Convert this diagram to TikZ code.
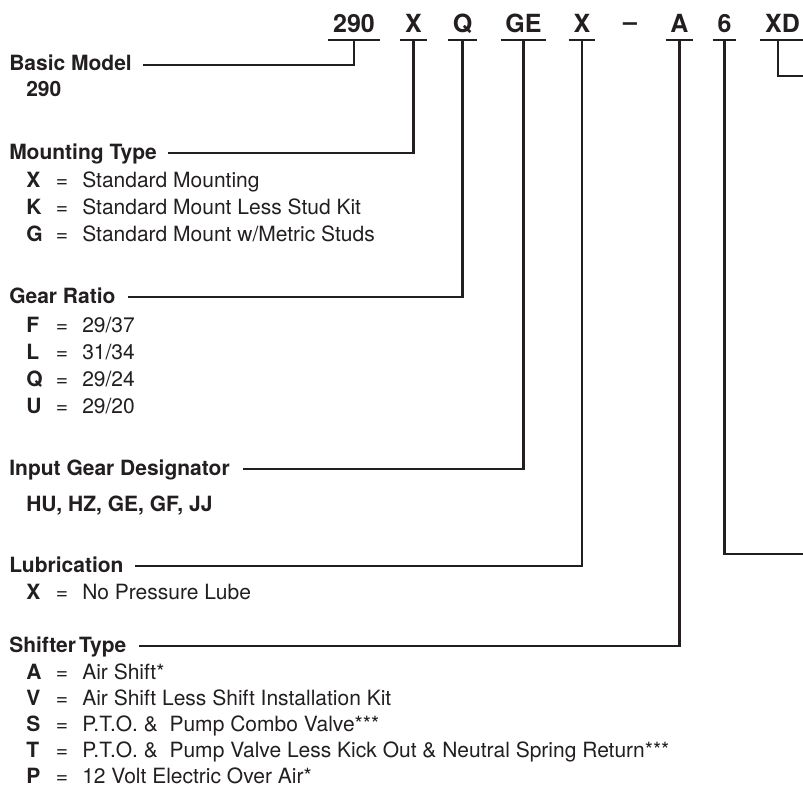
\documentclass[tikz,border=0pt]{standalone}
\usepackage{fontspec}
\setmainfont{TeX Gyre Heros}
\usepackage{tikz}
\usetikzlibrary{positioning,calc}
\definecolor{inkcolor}{HTML}{231F20}

\begin{document}
\begin{tikzpicture}[x=1pt, y=-1pt, line width=2.5pt, draw=inkcolor,
    every node/.style={inner sep=0pt, font=\fontsize{21}{25}\selectfont, text=inkcolor},
    codebox/.style={font=\fontsize{25}{30}\selectfont\bfseries, inner xsep=3.5pt, inner ysep=0pt,
        text height=18pt, text depth=6pt, anchor=base},
    heading/.style={font=\fontsize{21}{25}\selectfont\bfseries, anchor=base west,
        text height=15pt, text depth=3pt},
    keyletter/.style={font=\fontsize{21}{25}\selectfont\bfseries, anchor=base west},
    eqsign/.style={anchor=base},
    keyvalue/.style={anchor=base west}]
    \useasboundingbox (0,0) rectangle (803,789);

    % Model code (top row)
    \node[codebox] (c290) at (354,33) {290};
    \node[codebox] (cX)   at (413.5,33) {X};
    \node[codebox] (cQ)   at (462.5,33) {Q};
    \node[codebox] (cGE)  at (523.5,33) {GE};
    \node[codebox] (cXb)  at (582,33) {X};
    \node[codebox] (cdash) at (630,31) {--};
    \node[codebox] (cA)   at (679.5,33) {A};
    \node[codebox] (c6)   at (724.5,33) {6};
    \node[codebox] (cXD)  at (782.5,33) {XD};
    \foreach \c in {c290,cX,cQ,cGE,cXb,cA,c6,cXD}
        \draw (\c.south west) -- (\c.south east);

    % Section headings
    \node[heading] (bm)  at (8,71)  {Basic Model};
    \node[heading] (mt)  at (8,159) {Mounting Type};
    \node[heading] (gr)  at (8,303) {Gear Ratio};
    \node[heading] (igd) at (8,475) {Input Gear Designator};
    \node[heading] (lub) at (8,572) {Lubrication};
    \node[heading] (st)  at (8,652) {Shifter\kern3pt Type};

    % Basic model
    \node[keyletter] (bm-val) at (25,97) {290};

    % Mounting type
    \foreach \key/\val [count=\i from 0] in {X/Standard Mounting, K/Standard Mount Less Stud Kit,
        G/{Standard Mount w/Metric Studs}} {
        \pgfmathsetmacro{\by}{187 + \i*27}
        \node[keyletter] (mt-\i-k)  at (25,\by) {\key};
        \node[eqsign]    (mt-\i-eq) at (62,\by) {=};
        \node[keyvalue]  (mt-\i-v)  at (81,\by) {\val};
    }

    % Gear ratio
    \foreach \key/\val [count=\i from 0] in {F/{29/37}, L/{31/34}, Q/{29/24}, U/{29/20}} {
        \pgfmathsetmacro{\by}{332 + \i*27}
        \node[keyletter] (gr-\i-k)  at (25,\by) {\key};
        \node[eqsign]    (gr-\i-eq) at (62,\by) {=};
        \node[keyvalue]  (gr-\i-v)  at (81,\by) {\val};
    }

    % Input gear designator
    \node[keyletter] (igd-val) at (25,511) {HU, HZ, GE, GF, JJ};

    % Lubrication
    \node[keyletter] (lub-0-k)  at (25,599) {X};
    \node[eqsign]    (lub-0-eq) at (62,599) {=};
    \node[keyvalue]  (lub-0-v)  at (81,599) {No Pressure Lube};

    % Shifter type
    \foreach \key/\val [count=\i from 0] in {A/{Air Shift*}, V/{Air Shift Less Shift Installation Kit},
        S/{P.T.O. \&\ \ Pump Combo Valve***},
        T/{P.T.O. \&\ \ Pump Valve Less Kick Out \& Neutral Spring Return***},
        P/{12 Volt Electric Over Air*}} {
        \pgfmathsetmacro{\by}{679 + \i*26.2}
        \node[keyletter] (st-\i-k)  at (25,\by) {\key};
        \node[eqsign]    (st-\i-eq) at (62,\by) {=};
        \node[keyvalue]  (st-\i-v)  at (81,\by) {\val};
    }

    % Leaders from code to heading
    \draw (c290.south) |- ([xshift=10pt]bm.east);
    \draw (cX.south)   |- ([xshift=10pt]mt.east);
    \draw (cQ.south)   |- ([xshift=11pt]gr.east);
    \draw (cGE.south)  |- ([xshift=12pt]igd.east);
    \draw (cXb.south)  |- ([xshift=10pt]lub.east);
    \draw (cA.south)   |- ([xshift=11pt]st.east);

    % Leaders running off to the right
    \coordinate (xdend)  at (812,76);
    \coordinate (sixend) at (812,554);
    \draw ([xshift=-4.5pt]cXD.south) |- (xdend);
    \draw (c6.south) |- (sixend);
\end{tikzpicture}
\end{document}
